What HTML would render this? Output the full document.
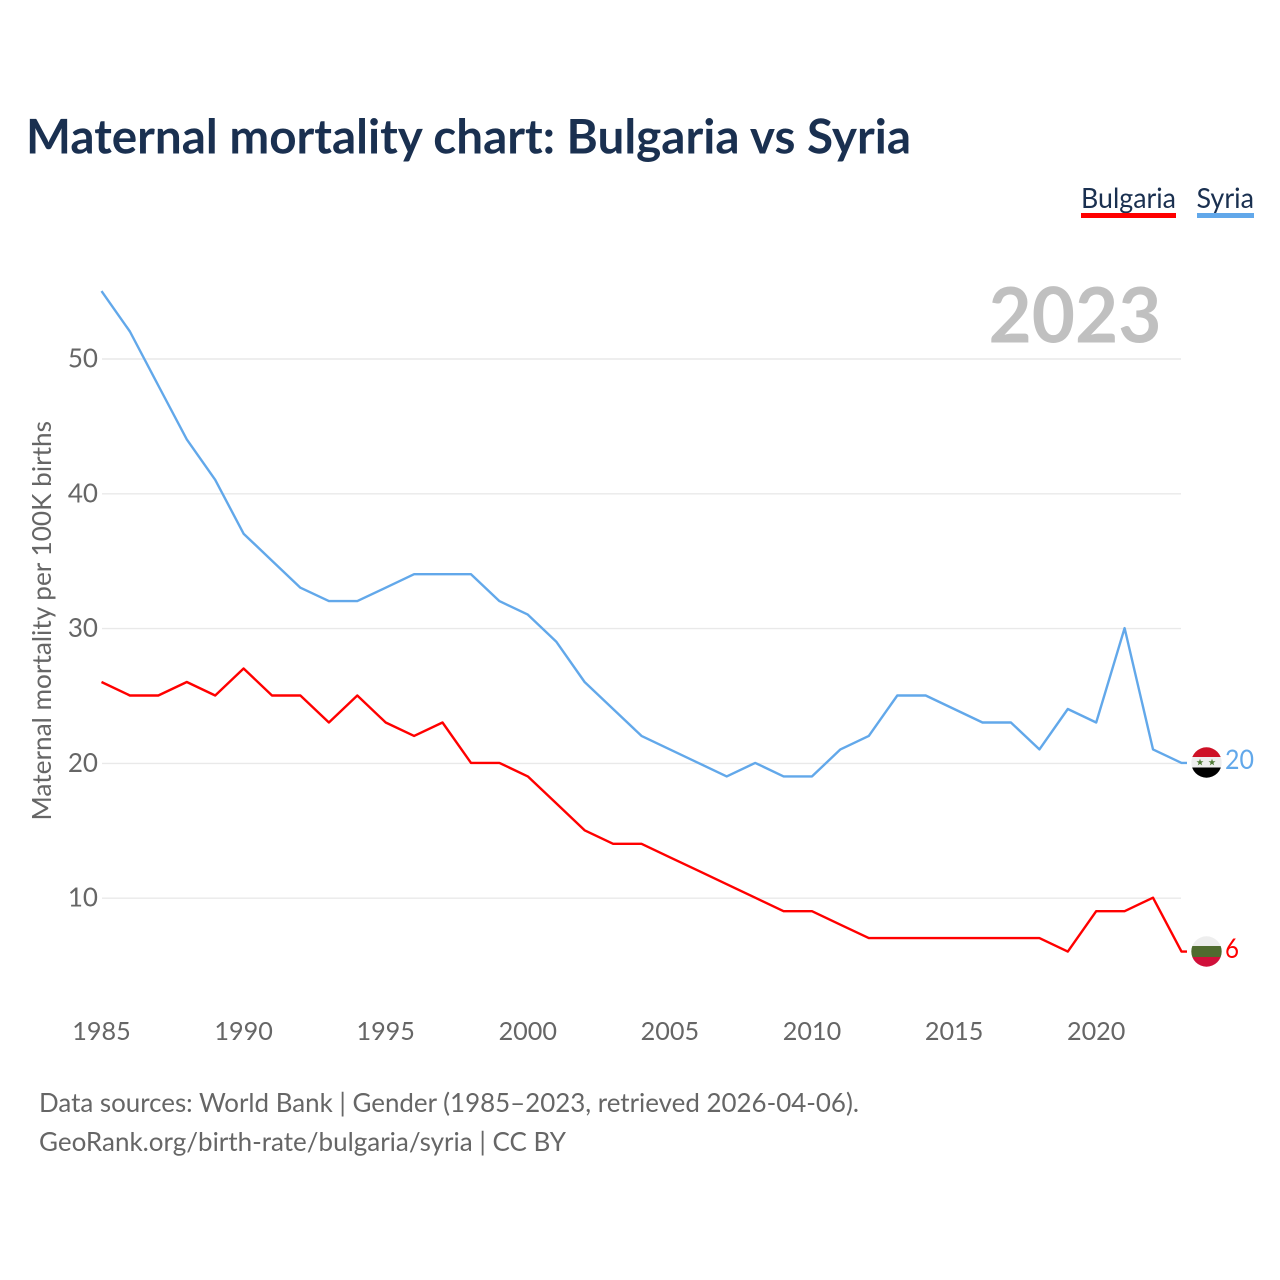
<!DOCTYPE html>
<html lang="en">
<head>
<meta charset="utf-8">
<title>Maternal mortality chart: Bulgaria vs Syria</title>
<style>
html,body{margin:0;padding:0;background:#fff;width:1280px;height:1280px;overflow:hidden}
svg{display:block}
text{font-family:"Lato","Carlito","Liberation Sans",sans-serif}
</style>
</head>
<body>
<svg id="chart" xmlns="http://www.w3.org/2000/svg" width="1280" height="1280" viewBox="0 0 1280 1280">
  <defs>
    <clipPath id="clip-syria"><circle cx="1206.5" cy="762.5" r="15.2"/></clipPath>
    <clipPath id="clip-bulgaria"><circle cx="1206.5" cy="951.5" r="15.2"/></clipPath>
  </defs>
  <text x="26" y="153.5" font-size="48" font-weight="700" fill="#1a3050" textLength="885" lengthAdjust="spacingAndGlyphs">Maternal mortality chart: Bulgaria vs Syria</text>

  <g>
    <g>
      <text x="1081" y="208" font-size="28" fill="#1a3050" textLength="95" lengthAdjust="spacingAndGlyphs">Bulgaria</text>
      <rect x="1081" y="213" width="95" height="5" fill="#ff0000"/>
    </g>
    <g>
      <text x="1196.5" y="208" font-size="28" fill="#1a3050" textLength="57.5" lengthAdjust="spacingAndGlyphs">Syria</text>
      <rect x="1197" y="213" width="57" height="5" fill="#62a8ea"/>
    </g>
  </g>

  <text x="988.5" y="342.5" font-size="77" font-weight="700" fill="#c0c0c0" textLength="173" lengthAdjust="spacingAndGlyphs">2023</text>

  <text transform="translate(51 820.5) rotate(-90)" x="0" y="0" font-size="26" fill="#666666" textLength="399.5" lengthAdjust="spacingAndGlyphs">Maternal mortality per 100K births</text>

  <g id="grid"></g>
  <g id="y-ticks"></g>
  <g id="x-ticks"></g>
  <g id="series"></g>

  <g clip-path="url(#clip-syria)">
    <rect x="1190" y="746" width="34" height="11" fill="#ce1126"/>
    <rect x="1190" y="757" width="34" height="10.5" fill="#eeeeee"/>
    <rect x="1190" y="767.5" width="34" height="12" fill="#000000"/>
    <polygon points="1200,758.8 1200.9,761.3 1203.5,761.3 1201.4,762.9 1202.2,765.4 1200,763.9 1197.8,765.4 1198.6,762.9 1196.5,761.3 1199.1,761.3" fill="#4f7a35"/>
    <polygon points="1212,758.8 1212.9,761.3 1215.5,761.3 1213.4,762.9 1214.2,765.4 1212,763.9 1209.8,765.4 1210.6,762.9 1208.5,761.3 1211.1,761.3" fill="#4f7a35"/>
  </g>
  <g clip-path="url(#clip-bulgaria)">
    <rect x="1190" y="935" width="34" height="11" fill="#eeeeee"/>
    <rect x="1190" y="946" width="34" height="11" fill="#4f6b2f"/>
    <rect x="1190" y="957" width="34" height="12" fill="#d0103a"/>
  </g>
  <text x="1225" y="769" font-size="27" fill="#62a8ea" textLength="29" lengthAdjust="spacingAndGlyphs">20</text>
  <text x="1225" y="958" font-size="27" fill="#ff0000" textLength="14" lengthAdjust="spacingAndGlyphs">6</text>

  <text x="39" y="1112" font-size="26" fill="#666666" textLength="820" lengthAdjust="spacingAndGlyphs">Data sources: World Bank | Gender (1985–2023, retrieved 2026-04-06).</text>
  <text x="39" y="1151" font-size="26" fill="#666666" textLength="527" lengthAdjust="spacingAndGlyphs">GeoRank.org/birth-rate/bulgaria/syria | CC BY</text>
</svg>
<script>
var years = [1985,1986,1987,1988,1989,1990,1991,1992,1993,1994,1995,1996,1997,1998,1999,2000,2001,2002,2003,2004,2005,2006,2007,2008,2009,2010,2011,2012,2013,2014,2015,2016,2017,2018,2019,2020,2021,2022,2023];
var syriaValues = [55,52,48,44,41,37,35,33,32,32,33,34,34,34,32,31,29,26,24,22,21,20,19,20,19,19,21,22,25,25,24,23,23,21,24,23,30,21,20];
var bulgariaValues = [26,25,25,26,25,27,25,25,23,25,23,22,23,20,20,19,17,15,14,14,13,12,11,10,9,9,8,7,7,7,7,7,7,7,6,9,9,10,6];
var yTickValues = [10,20,30,40,50];
var xTickValues = [1985,1990,1995,2000,2005,2010,2015,2020];

var NS = 'http://www.w3.org/2000/svg';
function xScale(year){ return 101.5 + (year - 1985) * 28.42; }
function yScale(value){ return 897.7 - (value - 10) * 13.48; }

var gridGroup = document.getElementById('grid');
var yTickGroup = document.getElementById('y-ticks');
var xTickGroup = document.getElementById('x-ticks');
var seriesGroup = document.getElementById('series');

yTickValues.forEach(function(value){
  var line = document.createElementNS(NS, 'line');
  
  
  line.setAttribute('x1', 102);
  line.setAttribute('x2', 1181);
  line.setAttribute('y1', yScale(value) + 0.5);
  line.setAttribute('y2', yScale(value) + 0.5);
  line.setAttribute('stroke', '#e9e9e9');
  line.setAttribute('stroke-width', 1.4);
  gridGroup.appendChild(line);

  var label = document.createElementNS(NS, 'text');
  
  
  label.setAttribute('x', 98);
  label.setAttribute('y', yScale(value) + 9);
  label.setAttribute('text-anchor', 'end');
  label.setAttribute('font-size', 26);
  label.setAttribute('fill', '#666666');
  label.textContent = value;
  yTickGroup.appendChild(label);
});

xTickValues.forEach(function(year){
  var label = document.createElementNS(NS, 'text');
  
  
  label.setAttribute('x', xScale(year));
  label.setAttribute('y', 1040);
  label.setAttribute('text-anchor', 'middle');
  label.setAttribute('font-size', 25.2);
  label.setAttribute('fill', '#666666');
  label.textContent = year;
  xTickGroup.appendChild(label);
});

function drawSeries(values, color, name){
  var pts = values.map(function(v, i){ return xScale(years[i]).toFixed(1) + ',' + yScale(v).toFixed(1); });
  var last = values[values.length - 1];
  pts.push('1187,' + yScale(last).toFixed(1));
  var path = document.createElementNS(NS, 'polyline');
  
  
  path.setAttribute('points', pts.join(' '));
  path.setAttribute('fill', 'none');
  path.setAttribute('stroke', color);
  path.setAttribute('stroke-width', 2.4);
  path.setAttribute('stroke-linejoin', 'round');
  seriesGroup.appendChild(path);
}
drawSeries(syriaValues, '#62a8ea', 'series-line-syria');
drawSeries(bulgariaValues, '#ff0000', 'series-line-bulgaria');
</script>
</body>
</html>
